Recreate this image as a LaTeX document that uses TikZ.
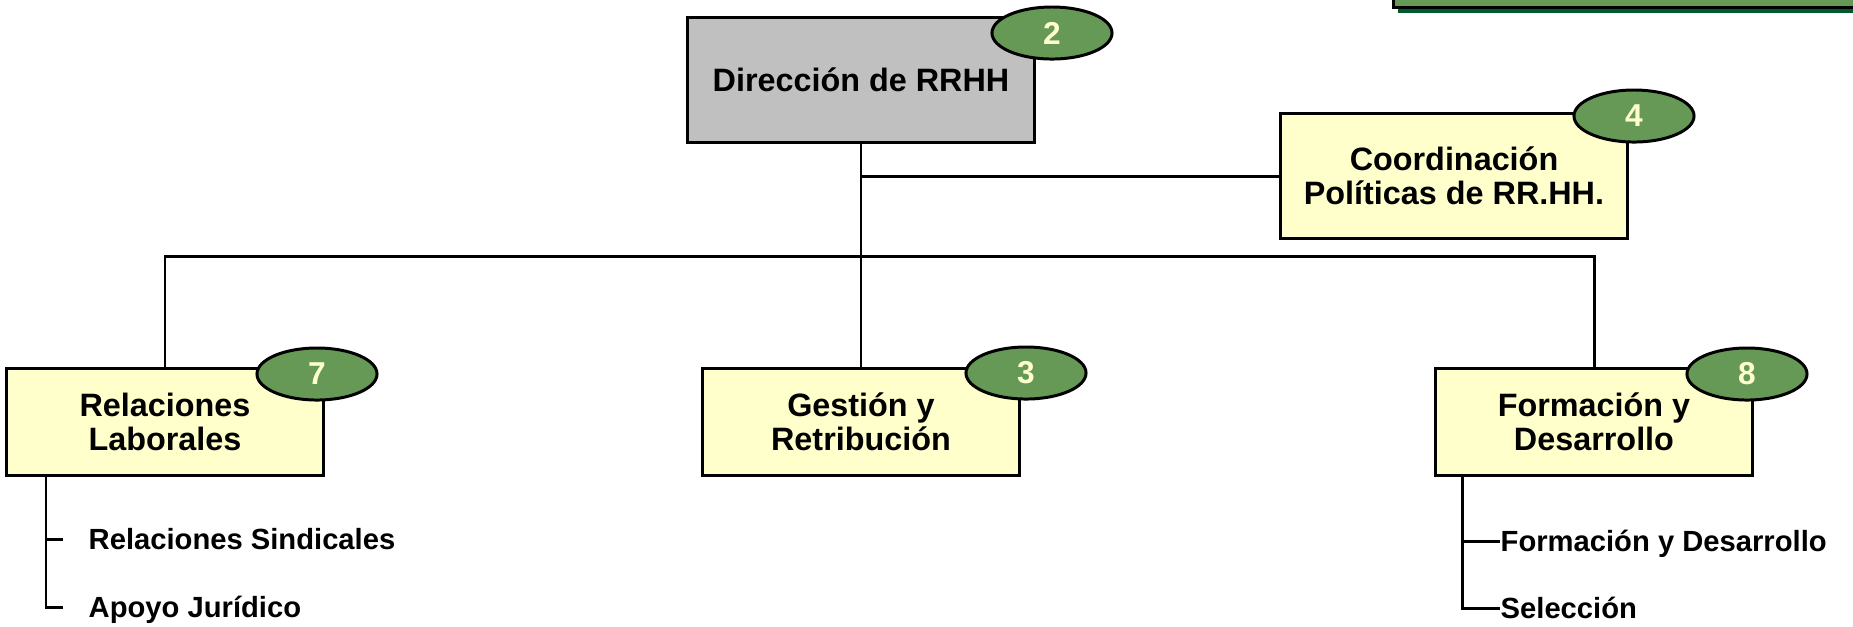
\documentclass[tikz,border=0pt]{standalone}
\usepackage{fontspec}
\setmainfont{Liberation Sans}
\usepackage{tikz}
\usetikzlibrary{calc}
\usetikzlibrary{shapes.geometric}
\definecolor{boxyellow}{HTML}{FFFFCC}
\definecolor{boxgray}{HTML}{C0C0C0}
\definecolor{badgegreen}{RGB}{102,153,85}
\definecolor{shadowgreen}{RGB}{0,90,45}
\tikzstyle{unit}=[rectangle, draw=black, line width=0.85pt, fill=boxyellow, align=center, inner sep=0pt, font=\bfseries\fontsize{9.2}{9.8}\selectfont]
\tikzstyle{head}=[unit, fill=boxgray, minimum width=3.46cm, minimum height=1.25cm]
\tikzstyle{staff}=[unit, minimum width=3.46cm, minimum height=1.25cm]
\tikzstyle{dept}=[unit, minimum width=3.16cm, minimum height=1.06cm]
\tikzstyle{badge}=[ellipse, draw=black, line width=0.85pt, fill=badgegreen, text=boxyellow, minimum width=1.2cm, minimum height=0.52cm, inner sep=0pt, font=\bfseries\fontsize{9}{9}\selectfont]
\tikzstyle{task}=[anchor=west, inner sep=0pt, text height=6pt, text depth=0pt, font=\bfseries\fontsize{8.3}{9}\selectfont]
\tikzstyle{link}=[line width=0.85pt]

\begin{document}
\begin{tikzpicture}[x=0.01cm, y=-0.01cm]
    \clip (0,0) rectangle (1853,626);

    %banner
    \fill[shadowgreen] (1398,-20) rectangle (1870,13);
    \filldraw[fill=badgegreen, draw=black, line width=0.85pt] (1393,-20) rectangle (1870,7);

    %units
    \node[head] (dir) at (861,80) {Dirección de RRHH};
    \node[staff] (coord) at (1454,176) {Coordinación\\Políticas de RR.HH.};
    \node[dept] (rel) at (165,422) {Relaciones\\Laborales};
    \node[dept] (ges) at (861,422) {Gestión y\\Retribución};
    \node[dept] (form) at (1594,422) {Formación y\\Desarrollo};

    %links
    \coordinate (bus) at (861,256);
    \draw[link] (dir.south) -- (ges.north);
    \draw[link] (dir.south |- coord.west) -- (coord.west);
    \draw[link] (rel.north) -- (rel.north |- bus) -- (form.north |- bus) -- (form.north);

    %badges
    \foreach \n/\x/\y in {2/1052/33,4/1634/116,7/317/374,3/1026/373,8/1747/374} {
    \node[badge] (badge\n) at (\x,\y) {\n};
    }

    %tasks
    \node[task] (sind) at (88,539) {Relaciones Sindicales};
    \node[task] (jur) at (88,607) {Apoyo Jurídico};
    \node[task] (fyd) at (1500,541) {Formación y Desarrollo};
    \node[task] (sel) at (1500,608) {Selección};

    \coordinate (relstem) at (46,422);
    \coordinate (formstem) at (1462,422);
    \draw[link] (rel.south -| relstem) |- ($(jur.west)+(-25,0)$);
    \draw[link] (relstem |- sind.west) -- ($(sind.west)+(-25,0)$);
    \draw[link] (form.south -| formstem) |- (sel.west);
    \draw[link] (formstem |- fyd.west) -- (fyd.west);

\end{tikzpicture}
\end{document}
